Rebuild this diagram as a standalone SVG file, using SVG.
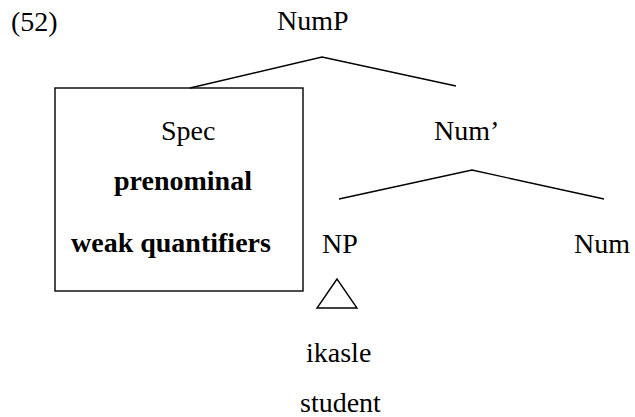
<svg xmlns="http://www.w3.org/2000/svg" width="635" height="417" viewBox="0 0 635 417">
<style>
text{font-family:"Liberation Serif","Times New Roman",serif !important;font-size:28px;fill:#000}
.b{font-weight:bold}
.ln{stroke:#000;stroke-width:1.4;fill:none}
</style>
<rect width="635" height="417" fill="#fff"/>
<g font-family="Liberation Serif, Times New Roman, serif" font-size="28">
<text x="11" y="31">(52)</text>
<g id="NumP"><text x="277" y="30">NumP</text></g>
<g id="Spec">
<rect class="ln" x="55" y="88" width="248" height="203"/>
<text x="161" y="140">Spec</text>
<text class="b" x="114" y="190">prenominal</text>
<text class="b" x="71" y="252">weak quantifiers</text>
</g>
<g id="NumBar"><text x="434" y="140">Num&#8217;</text></g>
<g id="NP"><text x="322" y="253">NP</text></g>
<g id="Num"><text x="574" y="253">Num</text></g>
<g id="ikasle"><text x="306" y="362">ikasle</text><text x="300" y="412">student</text></g>
</g>
<g id="connectors">
<polyline class="ln" points="190,88 322,57 456,86"/>
<polyline class="ln" points="339,199 472,170 604,199"/>
<polygon class="ln" points="337,279 317,308 357,308"/>
</g>
</svg>
